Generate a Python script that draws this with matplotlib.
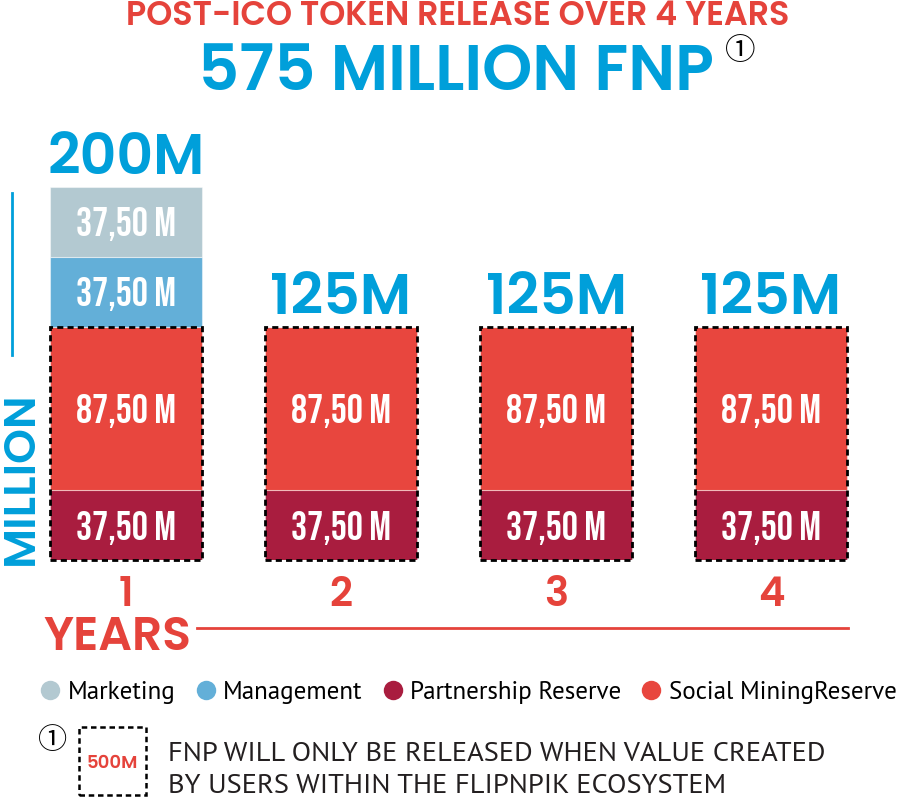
import matplotlib
matplotlib.use("Agg")
import matplotlib.pyplot as plt
from matplotlib.patches import Rectangle
from matplotlib.lines import Line2D

# data (million FNP released per year)
years = [1, 2, 3, 4]
partnership = [37.5, 37.5, 37.5, 37.5]
social = [87.5, 87.5, 87.5, 87.5]
management = [37.5, 0, 0, 0]
marketing = [37.5, 0, 0, 0]
series_names = ["Marketing", "Management", "Partnership Reserve", "Social MiningReserve"]

C_MARKETING = "#b3c9d1"
C_MANAGEMENT = "#63afd8"
C_PARTNER = "#a91d3f"
C_SOCIAL = "#e8463e"
BLUE = "#009fda"
RED = "#e5433b"

HEAVY = ["Poppins", "DejaVu Sans"]
COND = ["Bebas Neue", "DejaVu Sans"]
BODY = ["PT Sans", "DejaVu Sans"]
SYM = ["DejaVu Serif", "Noto Sans CJK SC"]
WEIGHT = "semibold"

W, H = 900, 799
fig = plt.figure(figsize=(9, 7.99), dpi=100)


def fx(x):
    return x / W


def fy(y):
    return 1 - y / H


# axes placed so that bars land where they are in the reference
ax = fig.add_axes([fx(18.5), fy(560), 860 / W, 373 / H])
ax.set_xlim(0.5, 4.5)
ax.set_ylim(0, 200)
ax.axis("off")

bw = 0.707
bottom = [0.0] * 4
stack = [(partnership, C_PARTNER), (social, C_SOCIAL),
         (management, C_MANAGEMENT), (marketing, C_MARKETING)]
for vals, col in stack:
    ax.bar(years, vals, width=bw, bottom=bottom, color=col,
           edgecolor=(1, 1, 1, 0.45), linewidth=0.8)
    for x, v, b in zip(years, vals, bottom):
        if v > 0:
            lbl = f"{v:.2f}".replace(".", ",") + " M"
            ax.text(x, b + v / 2, lbl, ha="center", va="center_baseline",
                    color="white", fontsize=29, family=COND)
    bottom = [b + v for b, v in zip(bottom, vals)]

# dashed box around the part released only on created value
for x, p, s in zip(years, partnership, social):
    ax.add_patch(Rectangle((x - bw / 2, 0), bw, p + s, fill=False,
                           edgecolor="black", linewidth=2,
                           linestyle=(0, (2.2, 1.5)), clip_on=False))

# totals above bars
for x, tot in zip(years, bottom):
    ax.annotate(f"{tot:.0f}M", (x, tot), xytext=(0, 9), textcoords="offset points",
                ha="center", va="baseline", color=BLUE, fontsize=41,
                fontweight=WEIGHT, family=HEAVY)

# year numbers
for x in years:
    ax.annotate(str(x), (x, 0), xytext=(0, -33), textcoords="offset points",
                ha="center", va="baseline", color=RED, fontsize=29,
                fontweight=WEIGHT, family=HEAVY)

# titles
fig.text(fx(458), fy(25), "POST-ICO TOKEN RELEASE OVER 4 YEARS", ha="center",
         va="baseline", color=RED, fontsize=24, fontweight=WEIGHT, family=HEAVY)
fig.text(fx(456), fy(90), "575 MILLION FNP", ha="center", va="baseline",
         color=BLUE, fontsize=46, fontweight=WEIGHT, family=HEAVY)
fig.text(fx(740), fy(51), "\u2460", ha="center", va="center", color="black",
         fontsize=22, family=SYM)

# y-axis label
fig.text(fx(33), fy(478), "MILLION", rotation=90, rotation_mode="anchor",
         ha="center", va="baseline", color=BLUE, fontsize=32,
         fontweight=WEIGHT, family=HEAVY)
fig.add_artist(Line2D([fx(12), fx(12)], [fy(193), fy(355)], color=BLUE, linewidth=2))

# x-axis label
fig.text(fx(117), fy(650), "YEARS", ha="center", va="baseline", color=RED,
         fontsize=34, fontweight=WEIGHT, family=HEAVY)
fig.add_artist(Line2D([fx(197), fx(848)], [fy(628), fy(628)], color=RED, linewidth=2))

# legend
handles = [Line2D([], [], marker="o", linestyle="none", markersize=14,
                  markerfacecolor=c, markeredgecolor="none")
           for c in (C_MARKETING, C_MANAGEMENT, C_PARTNER, C_SOCIAL)]
fig.legend(handles, series_names, loc="center", bbox_to_anchor=(fx(468), fy(692)),
           ncol=4, frameon=False, handletextpad=0.25, columnspacing=0.75,
           handlelength=0.9, borderpad=0, prop={"family": BODY, "size": 18})

# footnote
fig.text(fx(53), fy(741), "\u2460", ha="center", va="center", color="black",
         fontsize=21, family=SYM)
fig.add_artist(Rectangle((fx(79), fy(795)), 67 / W, 68 / H, fill=False,
                         edgecolor="black", linewidth=1.8,
                         linestyle=(0, (2.2, 1.5)), transform=fig.transFigure))
fig.text(fx(112), fy(768), "500M", ha="center", va="baseline", color=RED,
         fontsize=13, fontweight=WEIGHT, family=HEAVY)
fig.text(fx(168), fy(761), "FNP WILL ONLY BE RELEASED WHEN VALUE CREATED",
         ha="left", va="baseline", color="#231f20", fontsize=20.5, family=BODY)
fig.text(fx(168), fy(793), "BY USERS WITHIN THE FLIPNPIK ECOSYSTEM",
         ha="left", va="baseline", color="#231f20", fontsize=20.5, family=BODY)

fig.savefig("out.png", dpi=100)
